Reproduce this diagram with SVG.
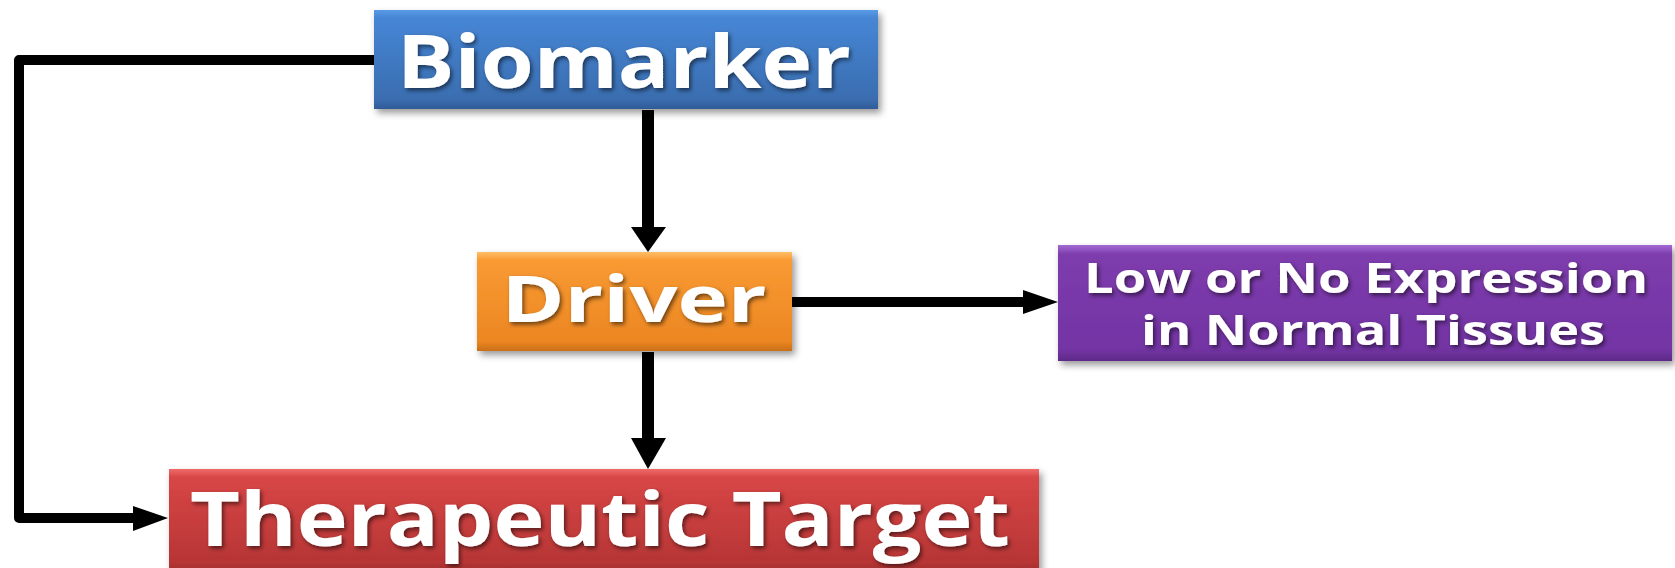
<svg xmlns="http://www.w3.org/2000/svg" width="1675" height="568" viewBox="0 0 1675 568">
<style>
.t{font-family:"Open Sans","DejaVu Sans",sans-serif;font-weight:bold;fill:#ffffff;text-anchor:middle;filter:url(#ts)}
.ln{fill:none;stroke:#000;stroke-width:10;stroke-linejoin:round;stroke-linecap:butt}
.ah{fill:#000}
</style>
<defs>
<filter id="ds" x="-5%" y="-10%" width="112%" height="130%">
<feDropShadow dx="3" dy="4" stdDeviation="3.5" flood-color="#000" flood-opacity="0.4"/>
</filter>
<filter id="ts" x="-5%" y="-10%" width="110%" height="130%">
<feDropShadow dx="2" dy="2.5" stdDeviation="2" flood-color="#000" flood-opacity="0.55"/>
</filter>
<linearGradient id="gb" x1="0" y1="0" x2="0" y2="1">
<stop offset="0" stop-color="#5a9be6"/><stop offset="0.08" stop-color="#4686d5"/><stop offset="0.9" stop-color="#3a6db0"/><stop offset="1" stop-color="#2f5c97"/>
</linearGradient>
<linearGradient id="go" x1="0" y1="0" x2="0" y2="1">
<stop offset="0" stop-color="#ffbe6a"/><stop offset="0.08" stop-color="#f99a33"/><stop offset="0.9" stop-color="#ec8722"/><stop offset="1" stop-color="#c96f17"/>
</linearGradient>
<linearGradient id="gp" x1="0" y1="0" x2="0" y2="1">
<stop offset="0" stop-color="#a26ad4"/><stop offset="0.08" stop-color="#7e3cad"/><stop offset="0.9" stop-color="#7334a4"/><stop offset="1" stop-color="#5e2a88"/>
</linearGradient>
<linearGradient id="gr" x1="0" y1="0" x2="0" y2="1">
<stop offset="0" stop-color="#f06a6a"/><stop offset="0.08" stop-color="#d84646"/><stop offset="0.9" stop-color="#b73535"/><stop offset="1" stop-color="#9c2c2c"/>
</linearGradient>
</defs>
<rect width="1675" height="568" fill="#ffffff"/>
<g id="connectors">
<polyline class="ln" points="374,60 19,60 19,518 135,518"/>
<polygon class="ah" points="133,506 168,518 133,531"/>
<line class="ln" x1="648" y1="110" x2="648" y2="228" style="stroke-width:12"/>
<polygon class="ah" points="631,227 666,227 648,252"/>
<line class="ln" x1="648" y1="352" x2="648" y2="440" style="stroke-width:12"/>
<polygon class="ah" points="631,438 666,438 648,469"/>
<line class="ln" x1="792" y1="302" x2="1025" y2="302"/>
<polygon class="ah" points="1023,290 1058,302 1023,314"/>
</g>
<g id="biomarker">
<rect x="374" y="10" width="504" height="99" fill="url(#gb)" filter="url(#ds)"/>
<text class="t" x="624" y="88" font-size="74" textLength="454" lengthAdjust="spacingAndGlyphs">Biomarker</text>
</g>
<g id="driver">
<rect x="477" y="252" width="315" height="99" fill="url(#go)" filter="url(#ds)"/>
<text class="t" x="634" y="322" font-size="64" textLength="265" lengthAdjust="spacingAndGlyphs">Driver</text>
</g>
<g id="expression">
<rect x="1058" y="245" width="614" height="116" fill="url(#gp)" filter="url(#ds)"/>
<text class="t" x="1366" y="293" font-size="42" textLength="564" lengthAdjust="spacingAndGlyphs">Low or No Expression</text>
<text class="t" x="1373" y="345" font-size="42" textLength="464" lengthAdjust="spacingAndGlyphs">in Normal Tissues</text>
</g>
<g id="target">
<rect x="169" y="469" width="870" height="104" fill="url(#gr)" filter="url(#ds)"/>
<text class="t" x="600" y="546" font-size="75" textLength="820" lengthAdjust="spacingAndGlyphs">Therapeutic Target</text>
</g>
</svg>
